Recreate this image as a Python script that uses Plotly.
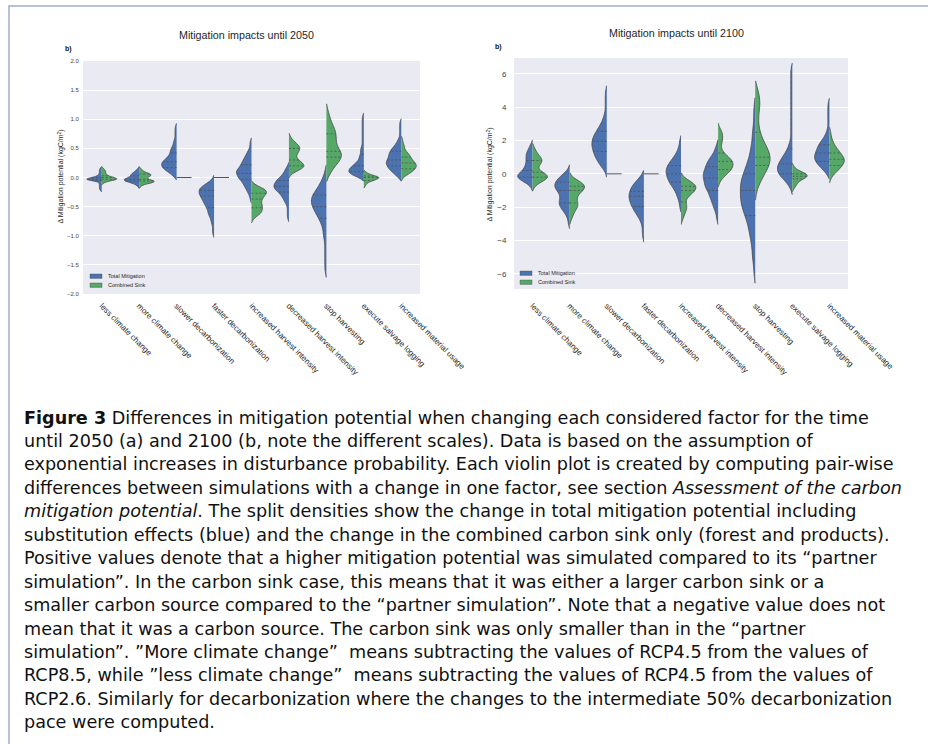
import numpy as np
import plotly.graph_objects as go

# ---------------- data ----------------
categories = ["less climate change", "more climate change", "slower decarbonization",
              "faster decarbonization", "increased harvest intensity", "decreased harvest intensity",
              "stop harvesting", "execute salvage logging", "increased material usage"]
series_names = ["Total Mitigation", "Combined Sink"]

# pair-wise differences (kgC/m2), given as value levels and how many simulations fall on each
total_2050_values = [
    [-0.21, -0.18, -0.15, -0.12, -0.09, -0.06, -0.03, 0.0, 0.03, 0.06, 0.09, 0.12, 0.15],
    [-0.15, -0.12, -0.09, -0.06, -0.03, 0.0, 0.03, 0.06, 0.09, 0.12, 0.15],
    [0.02, 0.07, 0.12, 0.17, 0.22, 0.27, 0.32, 0.37, 0.42, 0.47, 0.52, 0.57, 0.62, 0.67, 0.72, 0.77, 0.82, 0.87],
    [-0.02, -0.07, -0.12, -0.17, -0.22, -0.27, -0.32, -0.37, -0.42, -0.47, -0.52, -0.57, -0.62, -0.67, -0.72,
     -0.77, -0.82, -0.87, -0.92, -0.97],
    [-0.38, -0.33, -0.28, -0.23, -0.18, -0.13, -0.08, -0.03, 0.02, 0.07, 0.12, 0.17, 0.22, 0.27, 0.32, 0.37,
     0.42, 0.47, 0.52, 0.57, 0.62],
    [0.2, 0.15, 0.1, 0.05, 0.0, -0.05, -0.1, -0.15, -0.2, -0.25, -0.3, -0.35, -0.4, -0.45, -0.5, -0.55, -0.6,
     -0.65, -0.7],
    [0.1, 0.0, -0.1, -0.2, -0.3, -0.4, -0.5, -0.6, -0.7, -0.8, -0.9, -1.0, -1.1, -1.2, -1.3, -1.4, -1.5, -1.6],
    [0.0, 0.05, 0.1, 0.15, 0.2, 0.25, 0.3, 0.35, 0.4, 0.45, 0.5, 0.55, 0.6, 0.65, 0.7, 0.75, 0.8, 0.85, 0.9,
     0.95, 1.0, 1.05],
    [0.0, 0.05, 0.1, 0.15, 0.2, 0.25, 0.3, 0.35, 0.4, 0.45, 0.5, 0.55, 0.6, 0.65, 0.7, 0.75, 0.8, 0.85, 0.9, 0.95],
]
total_2050_counts = [
    [1, 1, 1, 1, 1, 2, 10, 3, 2, 1, 1, 1, 1],
    [1, 2, 5, 9, 10, 6, 5, 5, 3, 2, 1],
    [2, 4, 7, 9, 10, 9, 7, 5, 4, 4, 3, 2, 2, 1, 1, 1, 1, 1],
    [1, 3, 6, 9, 10, 10, 9, 8, 7, 6, 5, 4, 4, 3, 2, 2, 1, 1, 1, 1],
    [1, 1, 2, 3, 4, 5, 6, 8, 9, 10, 10, 8, 7, 6, 5, 4, 3, 2, 1, 1, 1],
    [1, 2, 3, 4, 6, 8, 9, 10, 9, 7, 5, 4, 3, 2, 1, 1, 1, 1, 1],
    [1, 2, 4, 6, 9, 10, 9, 7, 5, 3, 2, 2, 1, 1, 1, 1, 1, 1],
    [3, 8, 10, 9, 7, 5, 3, 3, 2, 2, 2, 1, 1, 1, 1, 1, 1, 1, 1, 1, 1, 1],
    [2, 4, 6, 8, 9, 10, 9, 8, 8, 7, 6, 4, 3, 2, 1, 1, 1, 1, 1, 1],
]
sink_2050_values = [
    [-0.09, -0.06, -0.03, 0.0, 0.03, 0.06, 0.09, 0.12, 0.15],
    [-0.15, -0.12, -0.09, -0.06, -0.03, 0.0, 0.03, 0.06, 0.09, 0.12, 0.15],
    [0.0],
    [0.0],
    [-0.12, -0.17, -0.22, -0.27, -0.32, -0.37, -0.42, -0.47, -0.52, -0.57, -0.62, -0.67, -0.72],
    [0.05, 0.1, 0.15, 0.2, 0.25, 0.3, 0.35, 0.4, 0.45, 0.5, 0.55, 0.6, 0.65, 0.7],
    [0.05, 0.15, 0.25, 0.35, 0.45, 0.55, 0.65, 0.75, 0.85, 0.95, 1.05, 1.15],
    [0.1, 0.075, 0.05, 0.025, 0.0, -0.025, -0.05, -0.075, -0.1, -0.125, -0.15],
    [0.0, 0.05, 0.1, 0.15, 0.2, 0.25, 0.3, 0.35, 0.4, 0.45, 0.5, 0.55, 0.6, 0.65],
]
sink_2050_counts = [
    [1, 3, 10, 6, 3, 2, 2, 2, 1],
    [1, 2, 8, 10, 4, 4, 7, 7, 3, 2, 1],
    [40],
    [40],
    [2, 6, 10, 10, 8, 7, 6, 7, 7, 7, 6, 3, 1],
    [1, 4, 8, 10, 8, 6, 4, 5, 6, 7, 6, 4, 2, 1],
    [2, 4, 7, 10, 9, 6, 6, 6, 5, 3, 2, 1],
    [1, 2, 4, 7, 10, 8, 6, 3, 2, 1, 1],
    [1, 4, 7, 9, 10, 9, 7, 6, 5, 3, 2, 2, 1, 1],
]
total_2100_values = [
    [-0.8, -0.6, -0.4, -0.2, 0.0, 0.2, 0.4, 0.6, 0.8, 1.0, 1.2, 1.4, 1.6, 1.8],
    [0.25, 0.0, -0.25, -0.5, -0.75, -1.0, -1.25, -1.5, -1.75, -2.0, -2.25, -2.5, -2.75, -3.0],
    [0.15, 0.45, 0.75, 1.05, 1.35, 1.65, 1.95, 2.25, 2.55, 2.85, 3.15, 3.45, 3.75, 4.05, 4.35, 4.65, 4.95],
    [-0.15, -0.45, -0.75, -1.05, -1.35, -1.65, -1.95, -2.25, -2.55, -2.85, -3.15, -3.45, -3.75],
    [2.0, 1.75, 1.5, 1.25, 1.0, 0.75, 0.5, 0.25, 0.0, -0.25, -0.5, -0.75, -1.0, -1.25, -1.5, -1.75, -2.0],
    [1.75, 1.5, 1.25, 1.0, 0.75, 0.5, 0.25, 0.0, -0.25, -0.5, -0.75, -1.0, -1.25, -1.5, -1.75, -2.0, -2.25,
     -2.5, -2.75],
    [4.0, 3.5, 3.0, 2.5, 2.0, 1.5, 1.0, 0.5, 0.0, -0.5, -1.0, -1.5, -2.0, -2.5, -3.0, -3.5, -4.0, -4.5, -5.0,
     -5.5, -6.0],
    [-0.9, -0.6, -0.3, 0.0, 0.3, 0.6, 0.9, 1.2, 1.5, 1.8, 2.1, 2.4, 2.7, 3.0, 3.3, 3.6, 3.9, 4.2, 4.5, 4.8,
     5.1, 5.4, 5.7, 6.0, 6.3],
    [0.0, 0.25, 0.5, 0.75, 1.0, 1.25, 1.5, 1.75, 2.0, 2.25, 2.5, 2.75, 3.0, 3.25, 3.5, 3.75, 4.0, 4.25],
]
total_2100_counts = [
    [1, 3, 7, 10, 9, 6, 5, 4, 4, 4, 4, 3, 2, 1],
    [1, 4, 7, 9, 10, 8, 6, 6, 7, 6, 4, 2, 1, 1],
    [1, 4, 6, 8, 9, 10, 10, 9, 7, 5, 3, 2, 1, 1, 1, 1, 1],
    [2, 5, 8, 9, 10, 9, 8, 6, 4, 2, 1, 1, 1],
    [1, 1, 2, 3, 5, 7, 9, 10, 10, 9, 8, 6, 4, 3, 2, 1, 1],
    [1, 2, 3, 5, 7, 8, 9, 10, 10, 9, 9, 7, 6, 5, 4, 3, 2, 1, 1],
    [1, 1, 1, 2, 2, 3, 4, 6, 8, 10, 10, 10, 9, 7, 5, 4, 3, 2, 2, 1, 1],
    [1, 3, 6, 9, 10, 9, 7, 5, 3, 2, 1, 1, 1, 1, 1, 1, 1, 1, 1, 1, 1, 1, 1, 1, 1],
    [2, 4, 7, 9, 10, 9, 8, 7, 5, 3, 2, 1, 1, 1, 1, 1, 1, 1],
]
sink_2100_values = [
    [-0.8, -0.6, -0.4, -0.2, 0.0, 0.2, 0.4, 0.6, 0.8, 1.0, 1.2, 1.4, 1.6],
    [-0.25, -0.5, -0.75, -1.0, -1.25, -1.5, -1.75, -2.0, -2.25, -2.5, -2.75],
    [0.0],
    [0.0],
    [-0.25, -0.5, -0.75, -1.0, -1.25, -1.5, -1.75, -2.0, -2.25, -2.5, -2.75],
    [-0.5, -0.25, 0.0, 0.25, 0.5, 0.75, 1.0, 1.25, 1.5, 1.75, 2.0, 2.25, 2.5, 2.75],
    [-1.0, -0.5, 0.0, 0.5, 1.0, 1.5, 2.0, 2.5, 3.0, 3.5, 4.0, 4.5, 5.0],
    [0.45, 0.3, 0.15, 0.0, -0.15, -0.3, -0.45, -0.6, -0.75, -0.9],
    [-0.25, 0.0, 0.25, 0.5, 0.75, 1.0, 1.25, 1.5, 1.75, 2.0, 2.25, 2.5],
]
sink_2100_counts = [
    [1, 3, 7, 10, 8, 4, 3, 5, 6, 5, 3, 2, 1],
    [2, 7, 10, 8, 5, 4, 5, 5, 3, 2, 1],
    [40],
    [40],
    [2, 7, 10, 9, 6, 3, 3, 4, 3, 2, 1],
    [1, 3, 6, 9, 10, 10, 7, 4, 2, 2, 3, 3, 3, 1],
    [1, 3, 6, 9, 10, 8, 5, 3, 2, 2, 3, 3, 2],
    [1, 2, 5, 9, 10, 7, 4, 3, 2, 1],
    [1, 3, 6, 8, 10, 9, 7, 5, 3, 2, 1, 1],
]

yticks_2050 = [-2.0, -1.5, -1.0, -0.5, 0.0, 0.5, 1.0, 1.5, 2.0]
yticks_2100 = [-6, -4, -2, 0, 2, 4, 6]

caption_lines = [
    "<b>Figure 3</b> Differences in mitigation potential when changing each considered factor for the time",
    "until 2050 (a) and 2100 (b, note the different scales). Data is based on the assumption of",
    "exponential increases in disturbance probability. Each violin plot is created by computing pair-wise",
    "differences between simulations with a change in one factor, see section <i>Assessment of the carbon</i>",
    "<i>mitigation potential</i>. The split densities show the change in total mitigation potential including",
    "substitution effects (blue) and the change in the combined carbon sink only (forest and products).",
    "Positive values denote that a higher mitigation potential was simulated compared to its \u201cpartner",
    "simulation\u201d. In the carbon sink case, this means that it was either a larger carbon sink or a",
    "smaller carbon source compared to the \u201cpartner simulation\u201d. Note that a negative value does not",
    "mean that it was a carbon source. The carbon sink was only smaller than in the \u201cpartner",
    "simulation\u201d. \u201dMore climate change\u201d  means subtracting the values of RCP4.5 from the values of",
    "RCP8.5, while \u201dless climate change\u201d  means subtracting the values of RCP4.5 from the values of",
    "RCP2.6. Similarly for decarbonization where the changes to the intermediate 50% decarbonization",
    "pace were computed.",
]

# ---------------- styling ----------------
W, H = 928, 744
BLUE, GREEN = "#4C72B0", "#55A868"
EDGE = "#474747"
TXT = "#262626"
BG = "#EAEAF2"
HALF = 0.4
FONT = "Liberation Sans, Arial, sans-serif"
CAP_FONT = "DejaVu Sans, sans-serif"


def px(x):
    return x / W


def py(y):
    return 1 - y / H


def expand(vals, counts):
    return np.repeat(np.asarray(vals, float), counts)


def kde(samples, bw, t):
    z = (np.asarray(t, float)[:, None] - samples[None, :]) / bw
    return np.exp(-0.5 * z * z).sum(axis=1) / (len(samples) * bw * np.sqrt(2 * np.pi))


positions = list(range(len(categories)))

panels = [
    dict(xa="x", ya="y", data=[(total_2050_values, total_2050_counts), (sink_2050_values, sink_2050_counts)]),
    dict(xa="x2", ya="y2", data=[(total_2100_values, total_2100_counts), (sink_2100_values, sink_2100_counts)]),
]

fig = go.Figure()

for pi, panel in enumerate(panels):
    qx, qy, fx, fy = [], [], [], []
    for si, (vals_list, cnt_list) in enumerate(panel["data"]):
        side = "negative" if si == 0 else "positive"
        sign = -1 if si == 0 else 1
        color = BLUE if si == 0 else GREEN
        for ci, pos in enumerate(positions):
            s = expand(vals_list[ci], cnt_list[ci])
            if np.ptp(s) == 0:
                fx += [pos, pos + sign * HALF, None]
                fy += [s[0], s[0], None]
                continue
            step = np.min(np.diff(np.unique(s)))
            bw = 0.75 * step
            span = [s.min() - 1.5 * bw, s.max() + 1.5 * bw]
            fig.add_trace(go.Violin(
                x=[pos] * len(s), y=s, side=side, width=2 * HALF, bandwidth=bw,
                spanmode="manual", span=span,
                points=False, fillcolor=color, line=dict(color=EDGE, width=0.8), opacity=1,
                name=series_names[si], scalegroup=f"p{pi}s{si}c{ci}", showlegend=False,
                hoverinfo="y", xaxis=panel["xa"], yaxis=panel["ya"]))
            grid = np.linspace(span[0], span[1], 800)
            dmax = kde(s, bw, grid).max()
            for q in np.percentile(s, [25, 50, 75]):
                w = HALF * kde(s, bw, [q])[0] / dmax
                qx += [pos, pos + sign * w, None]
                qy += [q, q, None]
    fig.add_trace(go.Scatter(x=qx, y=qy, mode="lines", line=dict(color="#505050", width=0.8, dash="2px,2px"),
                             showlegend=False, hoverinfo="skip", xaxis=panel["xa"], yaxis=panel["ya"]))
    fig.add_trace(go.Scatter(x=fx, y=fy, mode="lines", line=dict(color="#555555", width=1.0),
                             showlegend=False, hoverinfo="skip", xaxis=panel["xa"], yaxis=panel["ya"]))

xcommon = dict(range=[-0.5, len(categories) - 0.5], tickmode="array", tickvals=positions, ticktext=categories,
               tickangle=45, showgrid=False, zeroline=False, showline=False, automargin=False,
               ticks="outside", tickcolor="rgba(0,0,0,0)",
               tickfont=dict(family=FONT, size=8, color=TXT))
ycommon = dict(showgrid=True, gridcolor="white", gridwidth=1, zeroline=False, showline=False,
               automargin=False, ticks="outside", tickcolor="rgba(0,0,0,0)", tickmode="array")

fig.update_layout(
    width=W, height=H, template="none",
    margin=dict(l=0, r=0, t=0, b=0, autoexpand=False),
    paper_bgcolor="white", plot_bgcolor=BG, showlegend=False,
    violinmode="overlay",
    xaxis=dict(xcommon, domain=[px(83), px(420)], anchor="y", ticklen=3),
    yaxis=dict(ycommon, domain=[py(294), py(61)], anchor="x", range=[-2, 2], tickvals=yticks_2050,
               tickformat=".1f", ticklen=2, tickfont=dict(family=FONT, size=6, color="#444")),
    xaxis2=dict(xcommon, domain=[px(514), px(848)], anchor="y2", ticklen=8),
    yaxis2=dict(ycommon, domain=[py(289), py(58)], anchor="x2", range=[-6.92, 6.96], tickvals=yticks_2100,
                ticklen=5, tickfont=dict(family=FONT, size=8, color="#444")),
)

ann = []
shapes = []
# titles, panel labels, y titles
for (tx, ty, title, bx, by, ycx, ycy) in [
        (246, 35, "Mitigation impacts until 2050", 63, 49, 60.5, 177),
        (676, 33, "Mitigation impacts until 2100", 493, 47, 489.5, 175)]:
    ann.append(dict(x=px(tx), y=py(ty), xref="paper", yref="paper", text=title, showarrow=False,
                    xanchor="center", yanchor="middle", font=dict(family=FONT, size=10.7, color=TXT)))
    ann.append(dict(x=px(bx), y=py(by), xref="paper", yref="paper", text="<b>b)</b>", showarrow=False,
                    xanchor="left", yanchor="middle", font=dict(family=FONT, size=7, color="#111")))
    ann.append(dict(x=px(ycx), y=py(ycy), xref="paper", yref="paper",
                    text="\u0394 Mitigation potential (kgC/m<sup>2</sup>)", textangle=-90, showarrow=False,
                    xanchor="center", yanchor="middle", font=dict(family=FONT, size=7, color=TXT)))

# legends (drawn inside each panel, lower left)
for (lx, ly) in [(90, 276.2), (520, 273.2)]:
    for si, name in enumerate(series_names):
        yy = ly + 9 * si
        shapes.append(dict(type="rect", xref="paper", yref="paper", x0=px(lx), x1=px(lx + 12),
                           y0=py(yy + 2.2), y1=py(yy - 2.2), fillcolor=BLUE if si == 0 else GREEN,
                           line=dict(color=EDGE, width=0.4)))
        ann.append(dict(x=px(lx + 16), y=py(yy), xref="paper", yref="paper", text=name, showarrow=False,
                        xanchor="left", yanchor="middle", font=dict(family=FONT, size=5.5, color=TXT)))

# caption
for k, line in enumerate(caption_lines):
    ann.append(dict(x=px(22), y=py(417.5 + 23.45 * k), xref="paper", yref="paper", text=line,
                    showarrow=False, xanchor="left", yanchor="middle", align="left",
                    font=dict(family=CAP_FONT, size=17.6, color="#111")))

# page frame
shapes.append(dict(type="rect", xref="paper", yref="paper", x0=px(9), x1=px(940), y0=py(760), y1=py(6),
                   line=dict(color="#9fb0c8", width=1.5), fillcolor="rgba(0,0,0,0)", layer="below"))

fig.update_layout(annotations=ann, shapes=shapes)
fig.write_html("out.html")
